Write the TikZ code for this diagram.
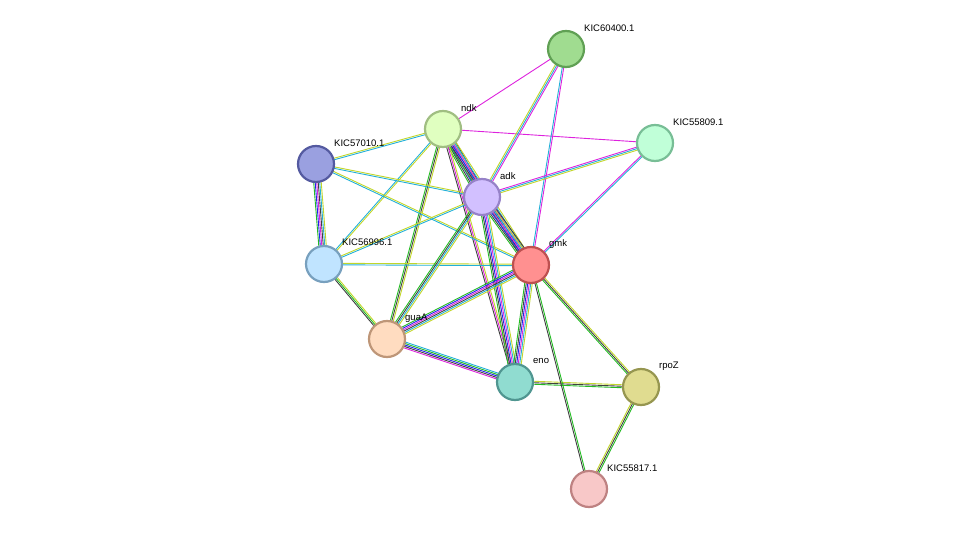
\documentclass[tikz,border=0pt]{standalone}
\usepackage{fontspec}
\setmainfont{Liberation Sans}
\usetikzlibrary{calc,backgrounds}
\definecolor{G}{HTML}{22BB22}
\definecolor{Y}{HTML}{C2D62A}
\definecolor{C}{HTML}{22B0D8}
\definecolor{M}{HTML}{DD22DD}
\definecolor{B}{HTML}{2222EE}
\definecolor{K}{HTML}{404040}
\newcommand\myedge[4]{%
  \foreach \c [count=\i] in {#3} {%
    \pgfmathsetmacro\o{(\i-(#4+1)/2)*1.5}%
    \draw[color=\c,line width=0.9pt] ($(#1)!\o pt!90:(#2)$) -- ($(#2)!\o pt!-90:(#1)$);
  }}
\tikzset{prot/.style={circle,minimum size=36pt,inner sep=0pt,line width=2.2pt},
  lab/.style={anchor=west,font=\fontsize{9.5pt}{10pt}\selectfont,inner sep=0pt}}
\begin{document}
\begin{tikzpicture}[x=1pt,y=-1pt]
\useasboundingbox (0,0) rectangle (975,535);
\node[prot,fill={rgb,255:red,160;green,220;blue,144},draw={rgb,255:red,96;green,160;blue,84}] (n60400) at (566,49) {};
\node[prot,fill={rgb,255:red,224;green,255;blue,192},draw={rgb,255:red,160;green,190;blue,130}] (ndk) at (443,129) {};
\node[prot,fill={rgb,255:red,192;green,255;blue,216},draw={rgb,255:red,120;green,190;blue,150}] (n55809) at (655,143) {};
\node[prot,fill={rgb,255:red,154;green,160;blue,224},draw={rgb,255:red,84;green,90;blue,160}] (n57010) at (316,164) {};
\node[prot,fill={rgb,255:red,210;green,192;blue,255},draw={rgb,255:red,150;green,130;blue,200}] (adk) at (482,197) {};
\node[prot,fill={rgb,255:red,192;green,228;blue,255},draw={rgb,255:red,120;green,160;blue,190}] (n56996) at (324,264) {};
\node[prot,fill={rgb,255:red,255;green,144;blue,144},draw={rgb,255:red,190;green,80;blue,80}] (gmk) at (531,265) {};
\node[prot,fill={rgb,255:red,255;green,220;blue,192},draw={rgb,255:red,190;green,150;blue,120}] (guaA) at (387,339) {};
\node[prot,fill={rgb,255:red,144;green,220;blue,208},draw={rgb,255:red,80;green,150;blue,145}] (eno) at (515,382) {};
\node[prot,fill={rgb,255:red,224;green,220;blue,144},draw={rgb,255:red,150;green,150;blue,80}] (rpoZ) at (641,387) {};
\node[prot,fill={rgb,255:red,248;green,200;blue,200},draw={rgb,255:red,190;green,130;blue,130}] (n55817) at (589,489) {};
\node[lab] (l60400) at (584,28) {KIC60400.1};
\node[lab] (lndk) at (461,108) {ndk};
\node[lab] (l55809) at (673,122) {KIC55809.1};
\node[lab] (l57010) at (334,143) {KIC57010.1};
\node[lab] (ladk) at (500,176) {adk};
\node[lab] (l56996) at (342,242) {KIC56996.1};
\node[lab] (lgmk) at (549,244) {gmk};
\node[lab] (lguaA) at (405,318) {guaA};
\node[lab] (leno) at (533,361) {eno};
\node[lab] (lrpoZ) at (659,366) {rpoZ};
\node[lab] (l55817) at (607,468) {KIC55817.1};
\begin{scope}[on background layer]
\myedge{ndk}{n60400}{M}{1}
\myedge{ndk}{n55809}{M}{1}
\myedge{n60400}{adk}{Y,C,M}{3}
\myedge{n60400}{gmk}{C,M}{2}
\myedge{ndk}{n57010}{Y,C}{2}
\myedge{ndk}{adk}{G,K,B,M,C,Y,K}{7}
\myedge{ndk}{gmk}{G,K,B,M,C,Y}{6}
\myedge{ndk}{eno}{K,M,Y}{3}
\myedge{ndk}{guaA}{G,K,Y}{3}
\myedge{ndk}{n56996}{C,Y}{2}
\myedge{n57010}{adk}{C,Y}{2}
\myedge{n57010}{gmk}{C,Y}{2}
\myedge{n57010}{n56996}{G,B,M,K,C,Y}{6}
\myedge{n56996}{guaA}{K,G,Y}{3}
\myedge{n56996}{adk}{C,Y}{2}
\myedge{n56996}{gmk}{C,Y}{2}
\myedge{adk}{n55809}{Y,C,M}{3}
\myedge{gmk}{n55809}{C,M}{2}
\myedge{adk}{gmk}{G,K,B,M,C,Y,K}{7}
\myedge{adk}{guaA}{G,K,C,Y}{4}
\myedge{adk}{eno}{G,K,B,M,C,Y}{6}
\myedge{gmk}{guaA}{G,B,M,K,C,Y}{6}
\myedge{gmk}{eno}{G,K,B,M,C,Y}{6}
\myedge{guaA}{eno}{M,K,B,G,C}{5}
\myedge{gmk}{rpoZ}{G,K,Y}{3}
\myedge{eno}{rpoZ}{G,K,Y}{3}
\myedge{gmk}{n55817}{K,G}{2}
\myedge{rpoZ}{n55817}{Y,K,G}{3}
\end{scope}
\end{tikzpicture}
\end{document}
